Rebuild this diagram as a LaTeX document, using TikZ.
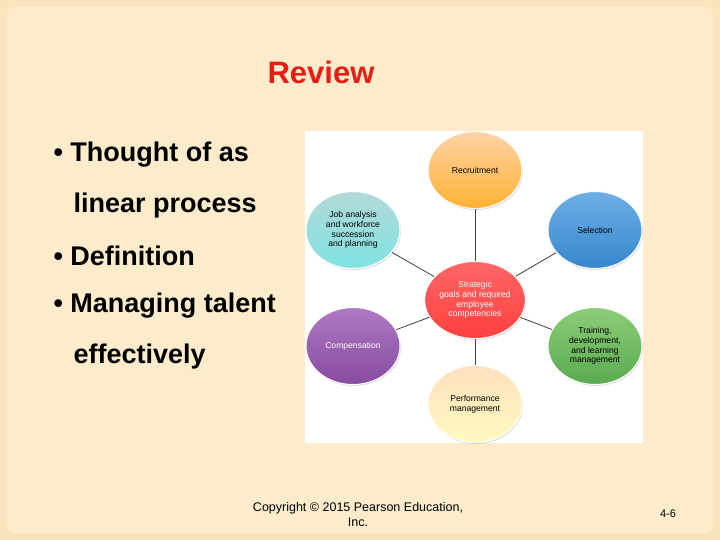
\documentclass[tikz,border=0pt]{standalone}
\usepackage{fontspec}
\setmainfont{Liberation Sans}
\usetikzlibrary{shapes.geometric,shadows}
\definecolor{bg}{RGB}{252,236,204}
\definecolor{frame}{RGB}{250,228,190}
\definecolor{titlered}{RGB}{230,30,20}
\begin{document}
\begin{tikzpicture}[x=1pt,y=-1pt,
  bub/.style={ellipse,inner sep=0pt,minimum width=94pt,minimum height=77pt,align=center,font=\fontsize{8.6}{9.6}\selectfont,text=black,
    draw=white,line width=1pt,drop shadow={opacity=0.25,shadow xshift=1pt,shadow yshift=-1.5pt}},
  link/.style={draw=black!75,line width=0.8pt},
  bullet/.style={anchor=west,font=\fontsize{27}{30}\bfseries\selectfont}]
\useasboundingbox (0,0) rectangle (720,540);
\fill[frame] (0,0) rectangle (720,540);
\fill[bg,rounded corners=8pt] (7,7) rectangle (713,533);
\node[font=\fontsize{31}{34}\bfseries\selectfont,text=titlered] (title) at (321,72) {Review};
\node[bullet] (b1) at (50,155) {•~Thought of as};
\node[bullet] (b1b) at (70,206) {linear process};
\node[bullet] (b2) at (50,256) {•~Definition};
\node[bullet] (b3) at (50,306) {•~Managing talent};
\node[bullet] (b3b) at (70,357) {effectively};
\fill[white] (305,131) rectangle (643,443);
\coordinate (c0) at (475,300);
\draw[link] (c0) -- (475,170);
\draw[link] (c0) -- (595,230);
\draw[link] (c0) -- (353,230);
\draw[link] (c0) -- (353,346);
\draw[link] (c0) -- (595,346);
\draw[link] (c0) -- (475,404);
\node[bub,top color=orange!35,bottom color=orange!75!yellow!80] (rec) at (475,170) {Recruitment};
\node[bub,top color={rgb,255:red,110;green,175;blue,230},bottom color={rgb,255:red,55;green,135;blue,205}] (sel) at (595,230) {Selection};
\node[bub,top color=teal!30,bottom color=teal!45!cyan!50] (job) at (353,230) {Job analysis\\and workforce\\succession\\and planning};
\node[bub,top color={rgb,255:red,175;green,120;blue,195},bottom color={rgb,255:red,135;green,75;blue,160},text=white] (comp) at (353,346) {Compensation};
\node[bub,top color={rgb,255:red,140;green,205;blue,120},bottom color={rgb,255:red,90;green,170;blue,80}] (tr) at (595,346) {Training,\\development,\\and learning\\management};
\node[bub,top color=orange!25,bottom color=orange!15!yellow!25] (perf) at (475,404) {Performance\\management};
\node[bub,top color=red!60,bottom color=red!75,text=white] (str) at (c0) {Strategic\\goals and required\\employee\\competencies};
\node[align=center,font=\fontsize{12.5}{15}\selectfont] (copy) at (358,515) {Copyright © 2015 Pearson Education,\\Inc.};
\node[font=\fontsize{11}{13}\selectfont] (pg) at (668,514) {4-6};
\end{tikzpicture}
\end{document}
